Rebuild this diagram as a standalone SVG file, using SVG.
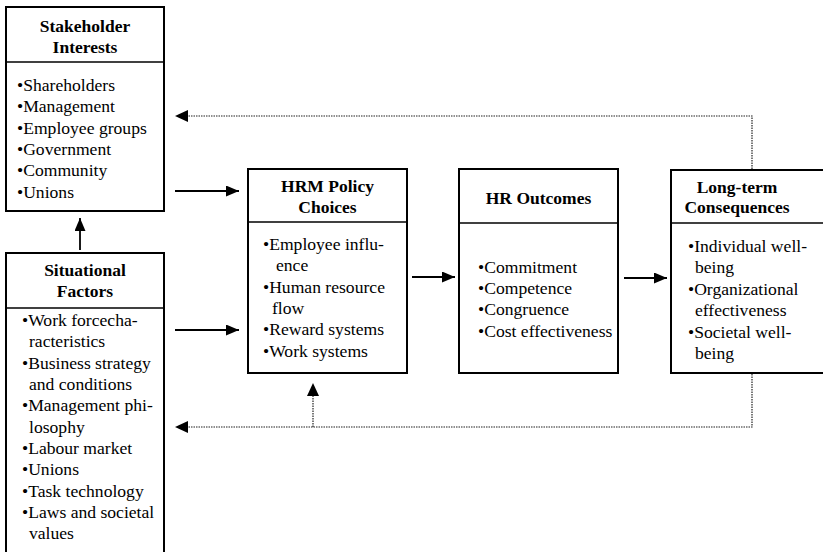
<svg xmlns="http://www.w3.org/2000/svg" width="823" height="552" viewBox="0 0 823 552">
<defs>
<marker id="arr" viewBox="0 0 13 11" refX="13" refY="5.5" markerWidth="13" markerHeight="11" markerUnits="userSpaceOnUse" orient="auto">
<path d="M0,0 L13,5.5 L0,11 Z" fill="#000"/>
</marker>
</defs>
<style>
.box{fill:#fff;stroke:#000;stroke-width:2}
.div{stroke:#000;stroke-width:1.6}
.t{font-family:"Liberation Serif","Times New Roman",serif;font-size:17.5px;font-weight:bold;fill:#000;text-anchor:middle}
.b{font-family:"Liberation Serif","Times New Roman",serif;font-size:17.6px;fill:#000}
.solid{stroke:#000;stroke-width:1.8;fill:none}
.dot{stroke:#222;stroke-width:1.2;fill:none;stroke-dasharray:1.5 1}
</style>
<rect width="823" height="552" fill="#fff"/>
<g id="stakeholder">
<rect class="box" x="6" y="7" width="158" height="204"/>
<line class="div" x1="6" y1="62" x2="164" y2="62"/>
<text class="t" x="85" y="32">Stakeholder</text>
<text class="t" x="85" y="53">Interests</text>
<text class="b" x="17" y="91">•Shareholders</text>
<text class="b" x="17" y="112">•Management</text>
<text class="b" x="17" y="134">•Employee groups</text>
<text class="b" x="17" y="155">•Government</text>
<text class="b" x="17" y="176">•Community</text>
<text class="b" x="17" y="198">•Unions</text>
</g>
<g id="situational">
<rect class="box" x="6" y="253" width="158" height="305"/>
<line class="div" x1="6" y1="308" x2="164" y2="308"/>
<text class="t" x="85" y="276">Situational</text>
<text class="t" x="85" y="297">Factors</text>
<text class="b" x="22" y="326">•Work forcecha-</text>
<text class="b" x="29" y="347">racteristics</text>
<text class="b" x="22" y="369">•Business strategy</text>
<text class="b" x="29" y="390">and conditions</text>
<text class="b" x="22" y="411">•Management phi-</text>
<text class="b" x="29" y="433">losophy</text>
<text class="b" x="22" y="454">•Labour market</text>
<text class="b" x="22" y="475">•Unions</text>
<text class="b" x="22" y="497">•Task technology</text>
<text class="b" x="22" y="518">•Laws and societal</text>
<text class="b" x="29" y="539">values</text>
</g>
<g id="hrm">
<rect class="box" x="248" y="169" width="159" height="204"/>
<line class="div" x1="248" y1="222" x2="407" y2="222"/>
<text class="t" x="327.5" y="192">HRM Policy</text>
<text class="t" x="327.5" y="213">Choices</text>
<text class="b" x="263" y="250">•Employee influ-</text>
<text class="b" x="276" y="271">ence</text>
<text class="b" x="263" y="293">•Human resource</text>
<text class="b" x="272" y="314">flow</text>
<text class="b" x="263" y="335">•Reward systems</text>
<text class="b" x="263" y="357">•Work systems</text>
</g>
<g id="hroutcomes">
<rect class="box" x="459" y="169" width="159" height="204"/>
<line class="div" x1="459" y1="223" x2="618" y2="223"/>
<text class="t" x="538.5" y="204">HR Outcomes</text>
<text class="b" x="478" y="273">•Commitment</text>
<text class="b" x="478" y="294">•Competence</text>
<text class="b" x="478" y="315">•Congruence</text>
<text class="b" x="478" y="337">•Cost effectiveness</text>
</g>
<g id="longterm">
<rect class="box" x="671" y="170" width="170" height="203"/>
<line class="div" x1="671" y1="223" x2="823" y2="223"/>
<text class="t" x="737" y="193">Long-term</text>
<text class="t" x="737" y="213">Consequences</text>
<text class="b" x="688" y="252">•Individual well-</text>
<text class="b" x="695" y="273">being</text>
<text class="b" x="688" y="295">•Organizational</text>
<text class="b" x="695" y="316">effectiveness</text>
<text class="b" x="688" y="338">•Societal well-</text>
<text class="b" x="695" y="359">being</text>
</g>
<g id="connectors">
<line class="solid" x1="80" y1="250" x2="80" y2="218" marker-end="url(#arr)"/>
<line class="solid" x1="175" y1="191" x2="239" y2="191" marker-end="url(#arr)"/>
<line class="solid" x1="175" y1="330" x2="239" y2="330" marker-end="url(#arr)"/>
<line class="solid" x1="412" y1="277" x2="455" y2="277" marker-end="url(#arr)"/>
<line class="solid" x1="624" y1="278" x2="667" y2="278" marker-end="url(#arr)"/>
<polyline class="dot" points="752,169 752,116 188,116"/>
<path d="M188,110 L175,116 L188,122 Z" fill="#000"/>
<polyline class="dot" points="752,374 752,427 188,427"/>
<path d="M188,421 L175,427 L188,433 Z" fill="#000"/>
<line class="dot" x1="313" y1="427" x2="313" y2="396"/>
<path d="M307,396 L313,383 L319,396 Z" fill="#000"/>
</g>
</svg>
